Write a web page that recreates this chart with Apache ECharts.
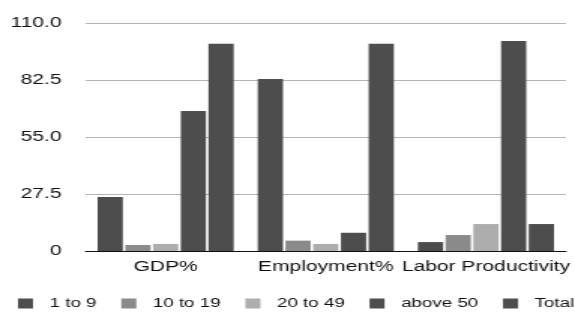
<!DOCTYPE html>
<html>
<head>
<meta charset="utf-8">
<script src="https://cdn.jsdelivr.net/npm/echarts@6/dist/echarts.min.js"></script>
<style>
  html, body { margin: 0; padding: 0; overflow: hidden; background: #fff; }
  /* the reference is horizontally stretched, so draw narrow and stretch */
  #chart { width: 383px; height: 314px; transform: scaleX(1.5013); transform-origin: 0 0; }
</style>
</head>
<body>
<div id="chart"></div>
<script>
const categories = ['GDP%', 'Employment%', 'Labor Productivity']
const seriesNames = ['1 to 9', '10 to 19', '20 to 49', 'above 50', 'Total']
const size1to9 = [26, 83, 4.3]
const size10to19 = [2.9, 5, 7.7]
const size20to49 = [3.4, 3.4, 13]
const sizeAbove50 = [67.5, 8.8, 101.3]
const sizeTotal = [100, 100, 13]
const yTicks = [0, 27.5, 55, 82.5, 110]

const colors = ['#4d4d4d', '#8a8a8a', '#adadad', '#4d4d4d', '#4d4d4d']
const values = [size1to9, size10to19, size20to49, sizeAbove50, sizeTotal]

const myChart = echarts.init(document.getElementById('chart'))
const font = 'Liberation Sans, Arial, Helvetica, sans-serif'

const option = {
  animation: false,
  backgroundColor: '#fff',
  color: colors,
  legend: {
    left: 12,
    top: 297,
    width: 420,
    padding: 0,
    icon: 'rect',
    itemWidth: 10,
    itemHeight: 10,
    itemGap: 16.5,
    textStyle: {
      fontFamily: font,
      fontSize: 12.5,
      color: '#111',
      padding: [0, 0, 0, 6]
    },
    data: seriesNames
  },
  grid: {
    left: 57,
    right: 6,
    top: 23,
    bottom: 63
  },
  xAxis: {
    type: 'category',
    data: categories,
    axisLine: { lineStyle: { color: '#111', width: 1 } },
    axisTick: { show: false },
    axisLabel: {
      interval: 0,
      fontFamily: font,
      fontSize: 14,
      color: '#111',
      margin: 9
    }
  },
  yAxis: {
    type: 'value',
    min: yTicks[0],
    max: yTicks[yTicks.length - 1],
    interval: yTicks[1] - yTicks[0],
    axisLine: { show: false },
    axisTick: { show: false },
    splitLine: { lineStyle: { color: '#b5b5b5', width: 1 } },
    axisLabel: {
      fontFamily: font,
      fontSize: 14,
      color: '#111',
      margin: 16,
      formatter: (v) => (v === 0 ? '0' : v.toFixed(1))
    }
  },
  series: seriesNames.map((name, i) => ({
    name: name,
    type: 'bar',
    barGap: '10%',
    barCategoryGap: '15%',
    itemStyle: { color: colors[i] },
    data: values[i]
  }))
}

option && myChart.setOption(option)
</script>
</body>
</html>
